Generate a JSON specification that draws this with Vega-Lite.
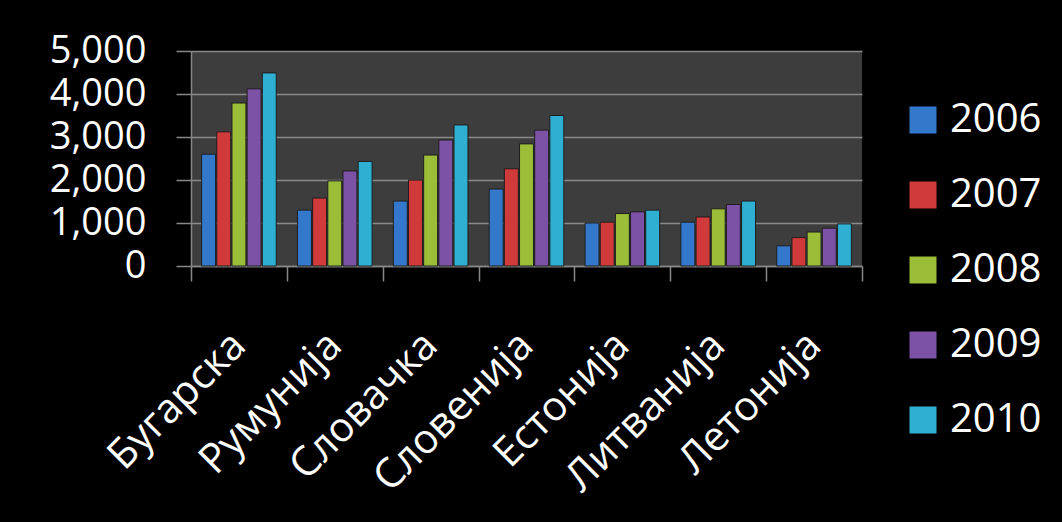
{
  "$schema": "https://vega.github.io/schema/vega-lite/v6.json",
  "autosize": "none",
  "width": 671,
  "height": 215,
  "padding": {"left": 191, "top": 51, "right": 200, "bottom": 256},
  "background": "black",
  "config": {
    "view": {"fill": "#3d3d3d", "stroke": null},
    "font": "Open Sans"
  },
  "data": {
    "values": [
      {"country": "Бугарска", "year": "2006", "value": 2600},
      {"country": "Бугарска", "year": "2007", "value": 3120},
      {"country": "Бугарска", "year": "2008", "value": 3790},
      {"country": "Бугарска", "year": "2009", "value": 4120},
      {"country": "Бугарска", "year": "2010", "value": 4490},
      {"country": "Румунија", "year": "2006", "value": 1300},
      {"country": "Румунија", "year": "2007", "value": 1580},
      {"country": "Румунија", "year": "2008", "value": 1980},
      {"country": "Румунија", "year": "2009", "value": 2210},
      {"country": "Румунија", "year": "2010", "value": 2430},
      {"country": "Словачка", "year": "2006", "value": 1510},
      {"country": "Словачка", "year": "2007", "value": 2000},
      {"country": "Словачка", "year": "2008", "value": 2580},
      {"country": "Словачка", "year": "2009", "value": 2930},
      {"country": "Словачка", "year": "2010", "value": 3280},
      {"country": "Словенија", "year": "2006", "value": 1790},
      {"country": "Словенија", "year": "2007", "value": 2260},
      {"country": "Словенија", "year": "2008", "value": 2840},
      {"country": "Словенија", "year": "2009", "value": 3160},
      {"country": "Словенија", "year": "2010", "value": 3500},
      {"country": "Естонија", "year": "2006", "value": 1000},
      {"country": "Естонија", "year": "2007", "value": 1020},
      {"country": "Естонија", "year": "2008", "value": 1220},
      {"country": "Естонија", "year": "2009", "value": 1260},
      {"country": "Естонија", "year": "2010", "value": 1300},
      {"country": "Литванија", "year": "2006", "value": 1020},
      {"country": "Литванија", "year": "2007", "value": 1140},
      {"country": "Литванија", "year": "2008", "value": 1330},
      {"country": "Литванија", "year": "2009", "value": 1430},
      {"country": "Литванија", "year": "2010", "value": 1510},
      {"country": "Летонија", "year": "2006", "value": 470},
      {"country": "Летонија", "year": "2007", "value": 660},
      {"country": "Летонија", "year": "2008", "value": 790},
      {"country": "Летонија", "year": "2009", "value": 880},
      {"country": "Летонија", "year": "2010", "value": 980}
    ]
  },
  "mark": {"type": "bar", "stroke": "#1e1e1e", "strokeWidth": 1},
  "encoding": {
    "x": {
      "field": "country",
      "type": "nominal",
      "sort": null,
      "scale": {"paddingInner": 0, "paddingOuter": 0},
      "axis": {
        "title": null,
        "labelAngle": -45,
        "labelAlign": "right",
        "labelBaseline": "middle",
        "labelFontSize": 41,
        "labelColor": "white",
        "labelPadding": 58,
        "labelLimit": 0,
        "tickBand": "extent",
        "tickSize": 15,
        "tickColor": "#888888",
        "tickWidth": 1.5,
        "domainColor": "#888888",
        "domainWidth": 1.5,
        "grid": false
      }
    },
    "xOffset": {
      "field": "year",
      "type": "nominal",
      "scale": {"paddingInner": 0.08, "paddingOuter": 0.7}
    },
    "y": {
      "field": "value",
      "type": "quantitative",
      "scale": {"domain": [0, 5000], "nice": false},
      "axis": {
        "title": null,
        "values": [0, 1000, 2000, 3000, 4000, 5000],
        "format": ",d",
        "labelFontSize": 38,
        "labelColor": "white",
        "labelPadding": 30,
        "tickSize": 15,
        "tickColor": "#888888",
        "tickWidth": 1.5,
        "domainColor": "#888888",
        "domainWidth": 1.5,
        "grid": true,
        "gridColor": "#8a8a8a",
        "gridWidth": 1.5,
        "gridOpacity": 1
      }
    },
    "color": {
      "field": "year",
      "type": "nominal",
      "scale": {"range": ["#3478cc", "#d03a3a", "#9bbd38", "#7c52a6", "#2fb0d2"]},
      "legend": {
        "title": null,
        "orient": "none",
        "legendX": 712,
        "legendY": 49,
        "padding": 0,
        "symbolType": "square",
        "symbolSize": 729,
        "symbolStrokeWidth": 0,
        "symbolOpacity": 1,
        "labelFontSize": 40,
        "labelColor": "white",
        "labelOffset": 7,
        "rowPadding": 35
      }
    }
  }
}
